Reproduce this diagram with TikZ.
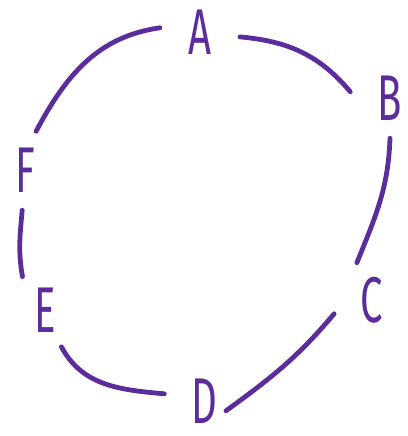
\documentclass[tikz,border=0pt]{standalone}
\usepackage{fontspec}
\usepackage{xcolor}
\usetikzlibrary{positioning,calc}
\setsansfont{Fira Sans}
\definecolor{InkViolet}{HTML}{5B2C9C}
\newcommand{\inkletter}[1]{\scalebox{0.62}[1]{\fontsize{46}{48}\selectfont\sffamily #1}}
\tikzset{
  vert/.style={circle,minimum size=2cm,inner sep=0pt,text=InkViolet},
  stroke/.style={draw=InkViolet,line width=3.4pt,line cap=round}
}

\begin{document}
\begin{tikzpicture}[x=1cm,y=1cm]
  \useasboundingbox (0,0) rectangle (10.2,10.9);
  \node[vert] (A) at (5.00,10.10) {\inkletter{A}};
  \node[vert] (B) at (9.75,8.45) {\inkletter{B}};
  \node[vert] (C) at (9.30,3.40) {\inkletter{C}};
  \node[vert] (D) at (5.10,0.88) {\inkletter{D}};
  \node[vert] (E) at (1.125,3.15) {\inkletter{E}};
  \node[vert] (F) at (0.625,6.65) {\inkletter{F}};
  \draw[stroke] (A.-7) to[out=-5,in=130] (B.171);
  \draw[stroke] (B.-90) to[out=-92,in=68] (C.112);
  \draw[stroke] (C.200) to[out=-130,in=36] ($(D.center)+(0.55,-0.25)$);
  \draw[stroke] (D.170) to[out=175,in=-62] (E.-66);
  \draw[stroke] (E.124) to[out=100,in=-95] (F.-94);
  \draw[stroke] (F.74) to[out=62,in=188] (A.174);
\end{tikzpicture}
\end{document}
